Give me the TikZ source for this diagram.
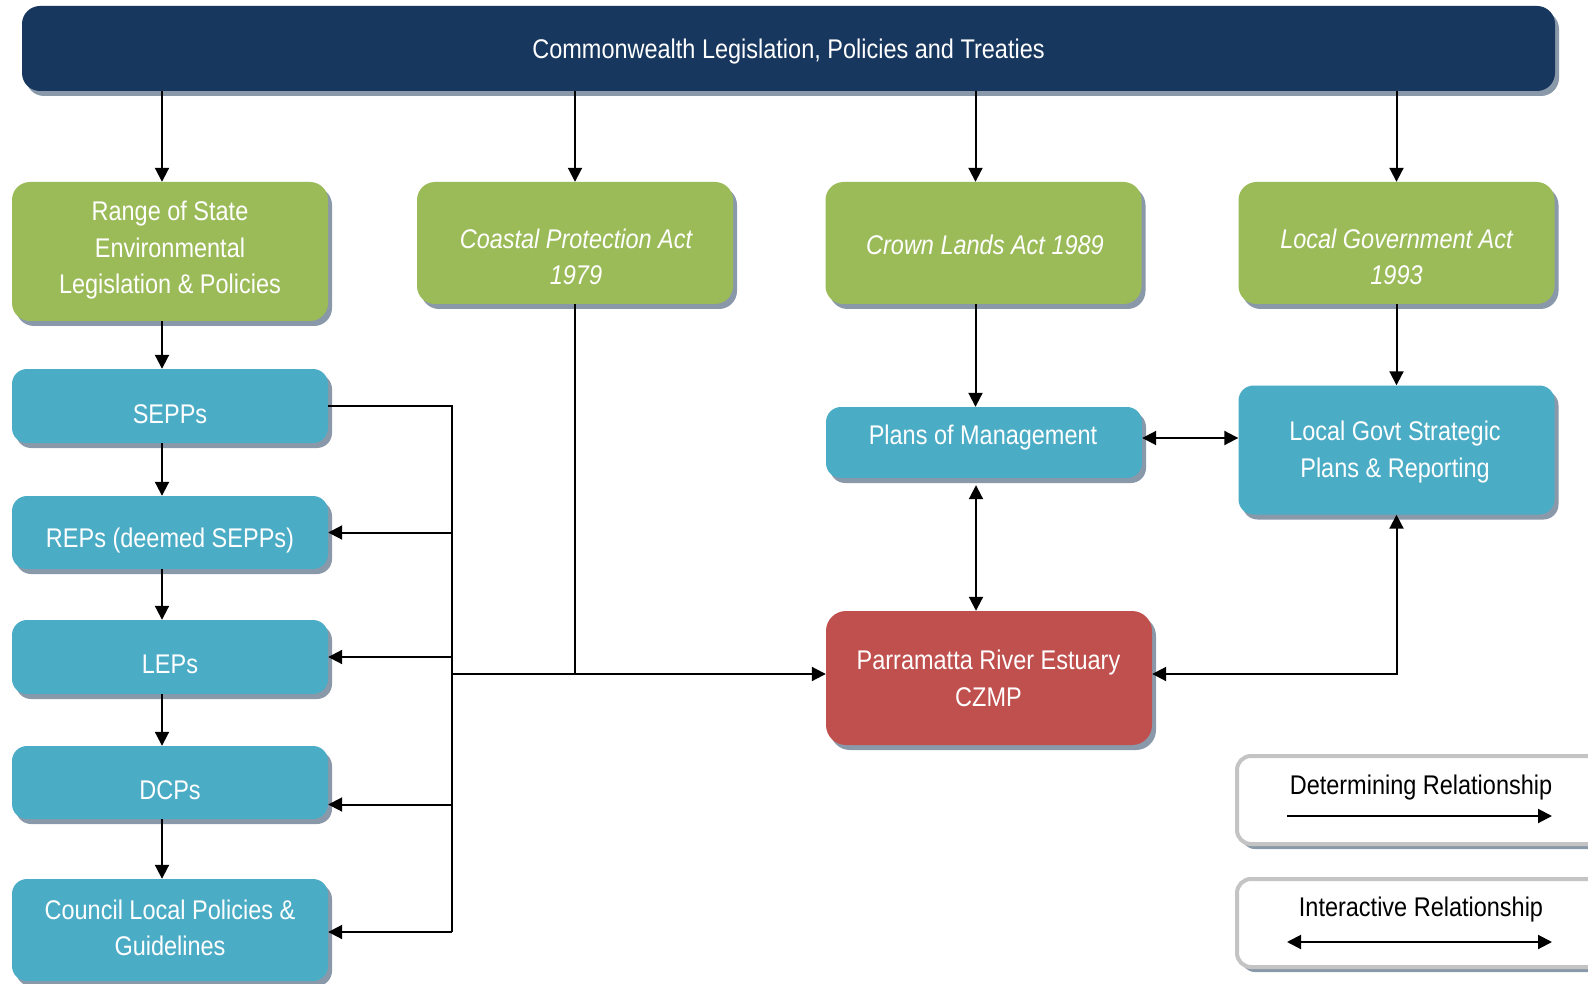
\documentclass[tikz,border=0pt]{standalone}
\usepackage{fontspec}
\setmainfont[FakeStretch=0.87]{Liberation Sans}
\usetikzlibrary{arrows.meta,shadows,calc}
\definecolor{navy}{HTML}{17375E}
\definecolor{lgreen}{HTML}{9BBB59}
\definecolor{lblue}{HTML}{4BACC6}
\definecolor{lred}{HTML}{C0504D}
\definecolor{shadowc}{HTML}{8A99A9}
\definecolor{legborder}{HTML}{C4C4C4}
\begin{document}
\begin{tikzpicture}[x=1pt,y=-1pt,
  box/.style={rectangle, rounded corners=18pt, inner sep=0pt,
    drop shadow={shadow xshift=4pt, shadow yshift=-5pt, fill=shadowc, opacity=1}},
  navybox/.style={box, fill=navy},
  gbox/.style={box, fill=lgreen, minimum width=316pt},
  bbox/.style={box, fill=lblue, minimum width=316pt, rounded corners=15pt},
  rbox/.style={box, fill=lred, rounded corners=20pt},
  legbox/.style={box, fill=white, draw=legborder, line width=4pt, rounded corners=14pt},
  txt/.style={text=white, align=center, inner sep=0pt, font=\fontsize{27}{36.5}\selectfont},
  ltxt/.style={txt, text=black},
  line/.style={line width=2pt},
  arr/.style={line width=2pt, -{Triangle[length=14pt,width=14pt]}},
  darr/.style={line width=2pt, {Triangle[length=14pt,width=14pt]}-{Triangle[length=14pt,width=14pt]}}
]
\clip (0,0) rectangle (1588,984);
\fill[white] (0,0) rectangle (1588,984);

% top bar
\node[navybox, minimum width=1533pt, minimum height=85pt] (top) at (788.5,48.5) {};
\node[txt] (toptxt) at (788.5,51.5) {Commonwealth Legislation, Policies and Treaties};

% green boxes
\node[gbox, minimum height=139pt] (g1) at (170,251.5) {};
\node[txt] (g1t) at (170,250.5) {Range of State\\Environmental\\Legislation \& Policies};
\node[gbox, minimum height=122pt] (g2) at (575,243) {};
\node[txt] (g2t) at (576,257) {\itshape Coastal Protection Act\\\itshape 1979};
\node[gbox, minimum height=122pt] (g3) at (983.5,243) {};
\node[txt] (g3t) at (985,245) {\itshape Crown Lands Act 1989};
\node[gbox, minimum height=122pt] (g4) at (1396.5,243) {};
\node[txt] (g4t) at (1396.5,257) {\itshape Local Government Act\\\itshape 1993};

% left column
\node[bbox, minimum height=74pt] (SEPPs) at (170,406) {};
\node[txt] (SEPPst) at (170,414) {SEPPs};
\node[bbox, minimum height=73pt] (REPs) at (170,532.5) {};
\node[txt] (REPst) at (170,541) {REPs (deemed SEPPs)};
\node[bbox, minimum height=74pt] (LEPs) at (170,657) {};
\node[txt] (LEPst) at (170,664) {LEPs};
\node[bbox, minimum height=73pt] (DCPs) at (170,782.5) {};
\node[txt] (DCPst) at (170,790) {DCPs};
\node[bbox, minimum height=102pt] (Council) at (170,930) {};
\node[txt] (Councilt) at (170,928) {Council Local Policies \&\\Guidelines};

% middle / right
\node[bbox, minimum height=71pt] (Plans) at (984,442.5) {};
\node[txt] (Planst) at (983,437.5) {Plans of Management};
\node[bbox, minimum height=129pt] (LGS) at (1396.5,450) {};
\node[txt] (LGSt) at (1395,452) {Local Govt Strategic\\Plans \& Reporting};
\node[rbox, minimum width=326pt, minimum height=134pt] (Parra) at (989,678) {};
\node[txt] (Parrat) at (988.5,678.5) {Parramatta River Estuary\\CZMP};

% legend
\node[legbox, minimum width=403pt, minimum height=88pt] (leg1) at (1438.5,800) {};
\node[ltxt] (leg1t) at (1421,788) {Determining Relationship};
\node[legbox, minimum width=403pt, minimum height=88pt] (leg2) at (1438.5,923) {};
\node[ltxt] (leg2t) at (1421,910) {Interactive Relationship};
\coordinate (l1a) at (1287,816);
\coordinate (l1b) at (1552,816);
\coordinate (l2a) at (1287,942);
\coordinate (l2b) at (1552,942);
\draw[arr] (l1a) -- (l1b);
\draw[darr] (l2a) -- (l2b);

% top arrows
\coordinate (a1) at ([xshift=-8pt]g1.north);
\draw[arr] (top.south -| a1) -- (a1);
\draw[arr] (top.south -| g2.north) -- (g2.north);
\coordinate (a3) at ([xshift=-8pt]g3.north);
\draw[arr] (top.south -| a3) -- (a3);
\draw[arr] (top.south -| g4.north) -- (g4.north);

% left column chain
\draw[arr] ([xshift=-8pt]g1.south) -- ([xshift=-8pt]SEPPs.north);
\draw[arr] ([xshift=-8pt]SEPPs.south) -- ([xshift=-8pt]REPs.north);
\draw[arr] ([xshift=-8pt]REPs.south) -- ([xshift=-8pt]LEPs.north);
\draw[arr] ([xshift=-8pt]LEPs.south) -- ([xshift=-8pt]DCPs.north);
\draw[arr] ([xshift=-8pt]DCPs.south) -- ([xshift=-8pt]Council.north);

% bus
\coordinate (bb) at (452,932);
\draw[line] (SEPPs.east) -| (bb);
\draw[arr] (REPs.east -| bb) -- (REPs.east);
\draw[arr] (LEPs.east -| bb) -- (LEPs.east);
\coordinate (d1) at ([yshift=-22pt]DCPs.east);
\draw[arr] (d1 -| bb) -- (d1);
\draw[arr] (bb) -- (Council.east |- bb);
\coordinate (pl) at ([yshift=4pt]Parra.west);
\draw[arr] (pl -| bb) -- (pl);
\draw[line] (g2.south) -- (g2.south |- pl);

% middle/right connectors
\coordinate (c3) at ([xshift=-8pt]g3.south);
\draw[arr] (c3) -- (Plans.north -| c3);
\coordinate (p1) at ([xshift=-8pt]Plans.south);
\draw[darr, shorten <=7pt] (p1) -- (Parra.north -| p1);
\coordinate (pe) at ([yshift=4.5pt]Plans.east);
\draw[darr] (pe) -- (LGS.west |- pe);
\draw[arr] (g4.south) -- (LGS.north);
\coordinate (pr) at ([yshift=4pt]Parra.east);
\draw[darr] (LGS.south) |- (pr);
\end{tikzpicture}
\end{document}
